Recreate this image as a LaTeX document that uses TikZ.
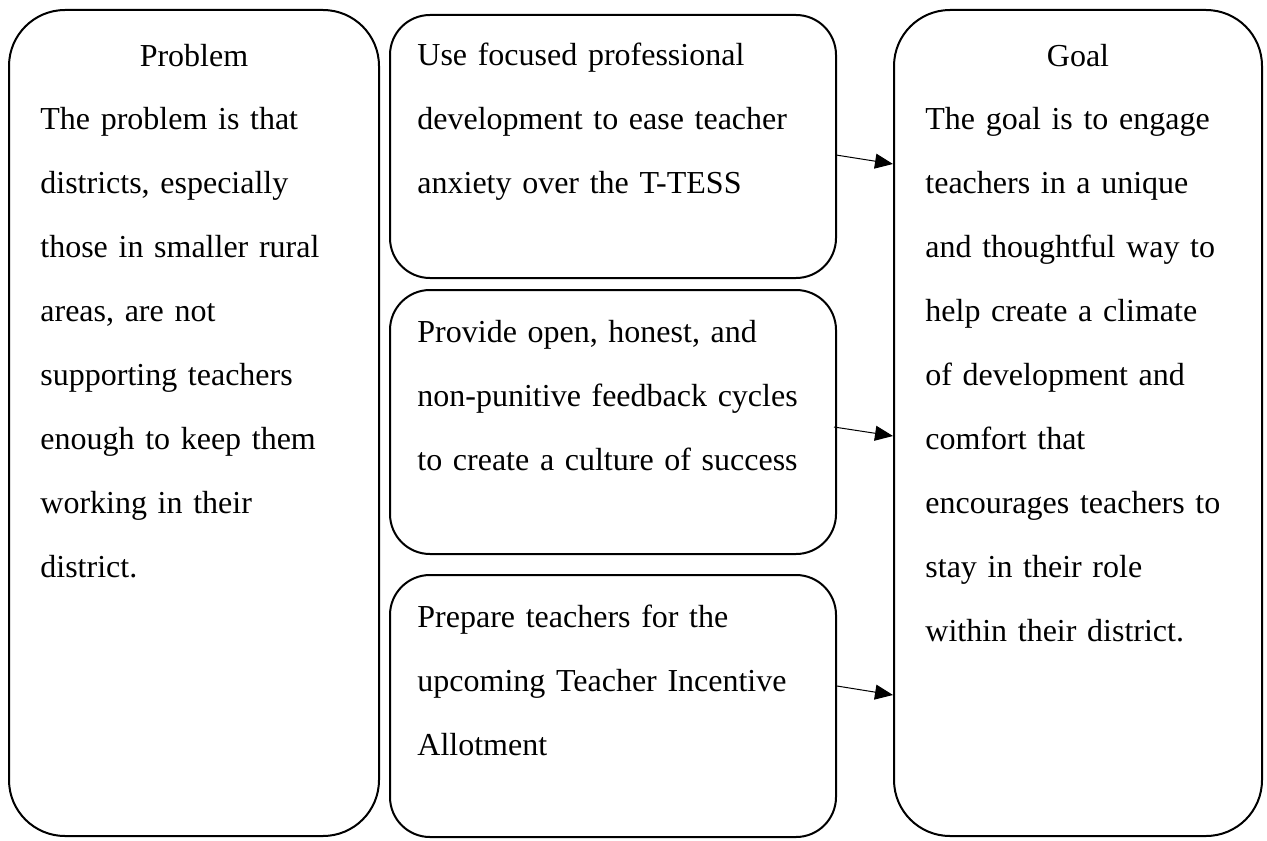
\documentclass[tikz,border=0pt]{standalone}
\usepackage{fontspec}
\setmainfont{Liberation Serif}
\usetikzlibrary{arrows.meta}

\begin{document}
\begin{tikzpicture}[x=0.5pt, y=-0.5pt,
		bigbox/.style={draw, line width=1pt, rounded corners=28pt, inner sep=0pt, minimum width=185pt, minimum height=413pt},
		midbox/.style={draw, line width=1pt, rounded corners=20pt, inner sep=0pt, minimum width=223pt},
		body/.style={anchor=base west, inner sep=0pt, align=left, text width=178pt, font=\fontsize{16pt}{32pt}\selectfont},
		head/.style={anchor=base, inner sep=0pt, font=\fontsize{16pt}{32pt}\selectfont},
		flow/.style={-{Triangle[length=9pt, width=7.5pt]}, line width=0.5pt}]
		% Page frame
		\useasboundingbox (0,0) rectangle (1267,840);
		
		% --- LEFT COLUMN: PROBLEM ---
		\node[bigbox] (problem) at (194,423) {};
		\node[head] (problemhead) at (194,67) {Problem};
		\node[body] (problemtext) at (40,129) {The problem is that\\ districts, especially\\ those in smaller rural\\ areas, are not\\ supporting teachers\\ enough to keep them\\ working in their\\ district.};
		
		% --- MIDDLE COLUMN: THREE STEPS ---
		\node[midbox, minimum height=131.5pt] (develop) at (613,146.5) {};
		\node[body, text width=215pt] (developtext) at (417,66) {Use focused professional\\ development to ease teacher\\ anxiety over the T-TESS};
		
		\node[midbox, minimum height=132pt] (feedback) at (613,422) {};
		\node[body, text width=215pt] (feedbacktext) at (417,342) {Provide open, honest, and\\ non-punitive feedback cycles\\ to create a culture of success};
		
		\node[midbox, minimum height=131pt] (allot) at (613,706) {};
		\node[body, text width=215pt] (allottext) at (417,627) {Prepare teachers for the\\ upcoming Teacher Incentive\\ Allotment};
		
		% --- RIGHT COLUMN: GOAL ---
		\node[bigbox, minimum width=184pt] (goal) at (1078,423) {};
		\node[head] (goalhead) at (1078,67) {Goal};
		\node[body] (goaltext) at (925,129) {The goal is to engage\\ teachers in a unique\\ and thoughtful way to\\ help create a climate\\ of development and\\ comfort that\\ encourages teachers to\\ stay in their role\\ within their district.};
		
		% Arrow end points on the box edges
		\coordinate (developout) at (836,155);
		\coordinate (feedbackout) at (834,427);
		\coordinate (allotout) at (837,686);
		\coordinate (goalin1) at (893,164);
		\coordinate (goalin2) at (893,436);
		\coordinate (goalin3) at (893,695);
		
		% Arrows from each step to the goal
		\draw[flow] (developout) -- (goalin1);
		\draw[flow] (feedbackout) -- (goalin2);
		\draw[flow] (allotout) -- (goalin3);
		
	\end{tikzpicture}
\end{document}
